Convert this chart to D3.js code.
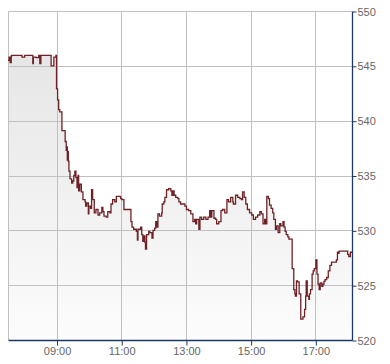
<!DOCTYPE html>
<html><head><meta charset="utf-8">
<script src="https://cdn.jsdelivr.net/npm/d3@7"></script>
<style>body{margin:0;background:#fff}svg{display:block}</style>
</head><body>
<svg id="c" width="390" height="364"></svg>
<script>
const times = ["07:30","07:32","07:34","07:36","07:37","07:56","08:01","08:16","08:17","08:22","08:27","08:29","08:31","08:50","08:55","08:59",
"09:00","09:02","09:04","09:06","09:10","09:16","09:18","09:19","09:20","09:21","09:22","09:23","09:25","09:28","09:30","09:32","09:34","09:36","09:38","09:40","09:41","09:43","09:46","09:49","09:53","09:54","09:56","09:59",
"10:00","10:03","10:05","10:07","10:10","10:13","10:17","10:20","10:24","10:26","10:28","10:32","10:35","10:39","10:41","10:44","10:48","10:51","10:54","10:59",
"11:01","11:05","11:12","11:18","11:20","11:23","11:28","11:30","11:31","11:36","11:38","11:40","11:42","11:44","11:45","11:47","11:51","11:53","11:57","11:59",
"12:02","12:04","12:06","12:08","12:11","12:15","12:16","12:19","12:21","12:24","12:28","12:32","12:34","12:36","12:38","12:41","12:45","12:47","12:50","12:54","12:58",
"13:01","13:05","13:09","13:13","13:16","13:18","13:20","13:24","13:26","13:29","13:33","13:37","13:41","13:44","13:46","13:48","13:52","13:55","13:57",
"14:01","14:05","14:08","14:12","14:16","14:19","14:23","14:27","14:28","14:32","14:36","14:40","14:43","14:45","14:48","14:51","14:54","14:58",
"15:02","15:05","15:09","15:13","15:17","15:20","15:23","15:26","15:28","15:30","15:33","15:35","15:38","15:41","15:43","15:46","15:48","15:51","15:54","15:56",
"16:00","16:02","16:04","16:06","16:09","16:11","16:16","16:17","16:20","16:22","16:23","16:25","16:27","16:30","16:33","16:37","16:40","16:42","16:43","16:45","16:48","16:49","16:51","16:54","16:56","16:58",
"17:01","17:03","17:05","17:07","17:09","17:12","17:14","17:16","17:18","17:21","17:24","17:27","17:30","17:39","17:41","17:43","17:44","17:47",
"18:00","18:02","18:05","18:08"];
const prices = [545.5,545.8,545.3,545.9,545.95,545.8,545.95,545.2,545.8,545.75,545.95,545.2,545.95,545.0,545.8,545.95,
542.9,541.9,541.0,540.8,539.1,538.1,537.3,537.6,536.4,537.2,536.3,535.4,534.7,534.3,534.5,535.0,535.4,534.8,533.9,535.0,533.6,534.2,533.5,532.8,532.6,532.2,532.5,531.5,
532.2,532.0,533.7,532.8,531.6,531.9,531.4,531.6,532.1,531.7,531.3,531.2,531.7,531.6,532.4,532.8,532.6,533.1,533.1,532.9,
532.8,531.9,531.9,530.8,530.3,530.1,529.9,529.1,530.1,530.3,529.6,529.0,529.5,528.9,528.3,529.6,529.9,529.8,529.3,530.0,
530.2,530.8,530.3,531.5,531.3,531.6,532.4,532.6,533.0,533.7,533.8,533.6,533.2,533.6,533.2,533.0,532.9,532.6,532.4,532.4,532.2,
531.9,531.8,531.5,530.8,531.0,530.6,531.0,530.1,531.2,531.0,531.2,531.0,531.2,531.8,531.2,531.8,531.1,531.0,530.6,
530.8,531.8,531.9,531.6,532.8,532.6,533.0,532.6,532.4,533.2,533.0,532.9,532.8,533.5,533.0,532.4,531.9,531.6,
531.4,531.0,531.2,531.4,531.7,531.5,530.6,531.0,530.6,533.1,532.9,532.3,532.0,531.6,531.0,530.1,530.4,529.8,530.6,530.4,
530.8,530.3,529.9,529.6,529.4,529.2,529.2,526.5,524.6,524.2,524.0,525.4,525.3,524.2,521.9,522.1,522.8,524.0,525.4,524.0,523.7,524.2,524.6,526.0,526.3,526.5,
527.3,526.0,525.1,524.6,525.2,524.9,525.1,525.35,525.5,525.7,526.3,526.8,527.1,527.3,528.0,527.9,528.1,528.1,
527.8,527.6,528.0,528.0];
const yTicks = [520,525,530,535,540,545,550];
const xTickLabels = ["09:00","11:00","13:00","15:00","17:00"];

const toMin = s => { const [h,m] = s.split(":").map(Number); return h*60+m; };
const data = times.map((t,i)=>({t:toMin(t), v:prices[i]})).filter(d=>d.v!=null);

const svg = d3.select("#c");
const L=8, R=352, T=11, B=340;
const x = d3.scaleLinear().domain([toMin("07:30"), toMin("18:08")]).range([L,R]);
const y = d3.scaleLinear().domain([520,550]).range([B,T]);

const defs = svg.append("defs");
const g = defs.append("linearGradient").attr("id","gr")
  .attr("gradientUnits","userSpaceOnUse").attr("y1",y(546)).attr("y2",B).attr("x1",0).attr("x2",0);
g.append("stop").attr("offset",0).attr("stop-color","#e6e6e6");
g.append("stop").attr("offset",1).attr("stop-color","#fcfcfc");

// area
const area = d3.area().curve(d3.curveStepAfter).x(d=>x(d.t)).y0(B).y1(d=>y(d.v));
svg.append("path").datum(data).attr("d",area).attr("fill","url(#gr)");

// grid
const grid = svg.append("g").attr("stroke","#c0c0c0").attr("stroke-width",1).attr("shape-rendering","crispEdges");
yTicks.filter(v=>v>520).forEach(v=>grid.append("line").attr("x1",L).attr("x2",R).attr("y1",Math.round(y(v))+0.5).attr("y2",Math.round(y(v))+0.5));
xTickLabels.forEach(s=>grid.append("line").attr("x1",Math.round(x(toMin(s)))+0.5).attr("x2",Math.round(x(toMin(s)))+0.5).attr("y1",T).attr("y2",B));
grid.append("line").attr("x1",L+0.5).attr("x2",L+0.5).attr("y1",T).attr("y2",B);

// line
const line = d3.line().curve(d3.curveStepAfter).x(d=>x(d.t)).y(d=>y(d.v));
svg.append("path").datum(data).attr("d",line).attr("fill","none").attr("stroke","#6e2226").attr("stroke-width",1.3);

// axes
const navy = "#1c3766";
const ya = svg.append("g").attr("transform",`translate(${R+0.5},0.5)`)
  .call(d3.axisRight(y).tickValues(yTicks).tickSize(4).tickSizeOuter(0).tickPadding(1).tickFormat(d3.format("d")));
const xa = svg.append("g").attr("transform",`translate(0.5,${B+0.5})`)
  .call(d3.axisBottom(x).tickValues(xTickLabels.map(toMin)).tickSize(5).tickSizeOuter(0).tickPadding(2).tickFormat((d,i)=>xTickLabels[i]));
[ya,xa].forEach(a=>{
  a.select(".domain").attr("stroke",navy).attr("stroke-width",1.3);
  a.selectAll(".tick line").attr("stroke",navy);
  a.selectAll("text").attr("fill","#666").attr("font-family","'Liberation Sans', Arial, sans-serif").attr("font-size",11);
});
xa.select(".domain").attr("d",`M${L},0H${R}`);
ya.select(".domain").attr("d",`M0,${T}V${B}`);
</script>
</body></html>
